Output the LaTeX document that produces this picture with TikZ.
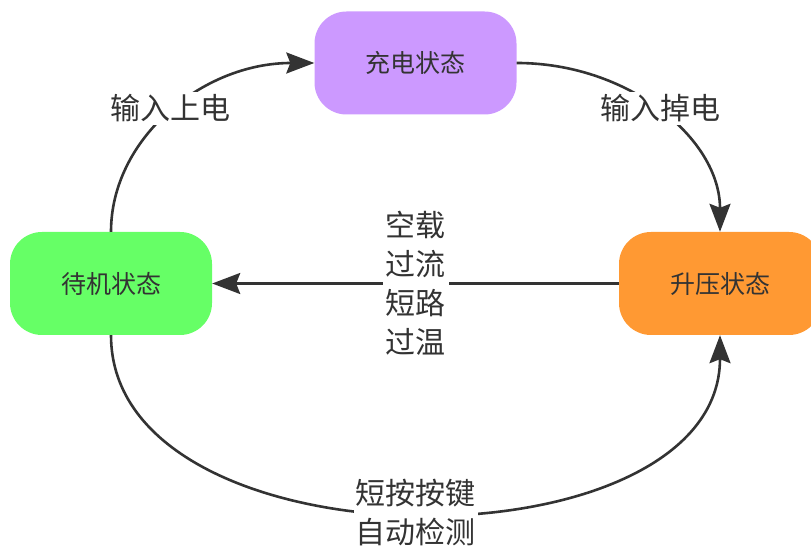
\documentclass[tikz,border=0pt]{standalone}
\usepackage{fontspec}
\newfontfamily\cjk{Noto Sans CJK SC}
\usepackage{tikz}
\usetikzlibrary{calc, positioning, arrows.meta}
\definecolor{chargepurple}{HTML}{CC99FF}
\definecolor{standbygreen}{HTML}{66FF66}
\definecolor{boostorange}{HTML}{FF9933}
\definecolor{textgray}{HTML}{333333}

\begin{document}
\begin{tikzpicture}[x=1pt,y=1pt,
	state/.style={rounded corners=32pt, minimum width=202pt, minimum height=103pt,
		font=\cjk\fontsize{25}{30}\selectfont, text=textgray},
	trans/.style={line width=2.6pt, draw=textgray,
		-{Stealth[length=28pt,width=21pt,inset=4pt]}},
	cond/.style={fill=white, inner sep=3pt, align=center,
		font=\cjk\fontsize{30}{39}\selectfont, text=textgray}]

		%fix the page to the size of the picture
		\useasboundingbox (0,0) rectangle (811,551);

		%the three states
		\node[state, fill=chargepurple] (charge) at (415.5,488) {充电状态};
		\node[state, fill=standbygreen] (standby) at (111,267.5) {待机状态};
		\node[state, fill=boostorange] (boost) at (720,267.5) {升压状态};

		%transitions between the states
		\draw[trans] (standby.north) .. controls +(0,93) and +(-112,0) .. node[cond, yshift=4pt] {输入上电} (charge.west);
		\draw[trans] (charge.east) .. controls +(112,0) and +(0,93) .. node[cond, yshift=4pt] {输入掉电} (boost.north);
		\draw[trans] (boost.west) -- node[cond] {空载\\过流\\短路\\过温} (standby.east);
		\draw[trans] (standby.south) .. controls +(0,-237) and +(0,-237) .. node[cond, inner sep=2pt] {短按按键\\自动检测} (boost.south);

	\end{tikzpicture}
\end{document}
